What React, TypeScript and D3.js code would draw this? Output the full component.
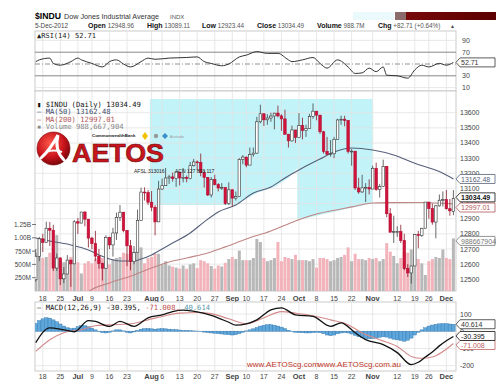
import * as d3 from "d3";

// trading days shown (Jun 14 – Dec 5, 2012)
const dates = [
  "6/14","6/15","6/18","6/19","6/20","6/21","6/22","6/25","6/26","6/27","6/28","6/29",
  "7/2","7/3","7/5","7/6","7/9","7/10","7/11","7/12","7/13","7/16","7/17","7/18","7/19","7/20","7/23","7/24","7/25","7/26","7/27","7/30","7/31",
  "8/1","8/2","8/3","8/6","8/7","8/8","8/9","8/10","8/13","8/14","8/15","8/16","8/17","8/20","8/21","8/22","8/23","8/24","8/27","8/28","8/29","8/30","8/31",
  "9/4","9/5","9/6","9/7","9/10","9/11","9/12","9/13","9/14","9/17","9/18","9/19","9/20","9/21","9/24","9/25","9/26","9/27","9/28",
  "10/1","10/2","10/3","10/4","10/5","10/8","10/9","10/10","10/11","10/12","10/15","10/16","10/17","10/18","10/19","10/22","10/23","10/24","10/25","10/26","10/31",
  "11/1","11/2","11/5","11/6","11/7","11/8","11/9","11/12","11/13","11/14","11/15","11/16","11/19","11/20","11/21","11/23","11/26","11/27","11/28","11/29","11/30",
  "12/3","12/4","12/5",
];

const opens = [
  12497,12652,12767,12742,12837,12824,12574,12641,12503,12535,12627,12602,
  12880,12871,12944,12897,12772,12736,12653,12605,12573,12777,12727,12806,12909,12943,12823,12721,12617,12676,12888,13076,13073,
  13009,12976,12879,13096,13118,13169,13176,13165,13208,13169,13172,13165,13250,13275,13272,13204,13173,13057,13158,13125,13103,13107,13001,
  13091,13036,13047,13292,13307,13254,13323,13333,13540,13593,13553,13565,13578,13597,13579,13559,13458,13414,13486,
  13437,13515,13482,13495,13575,13610,13584,13474,13345,13326,13329,13424,13552,13557,13549,13344,13346,13103,13077,13104,13107,
  13096,13233,13093,13112,13246,12933,12811,12815,12815,12756,12571,12542,12588,12796,12789,12837,13010,12967,12878,12985,13022,
  13026,12966,12948.96,
];
const highs = [
  12700,12780,12800,12880,12878,12860,12670,12645,12580,12660,12628,12890,
  12905,12945,12950,12897,12780,12820,12700,12610,12790,12780,12840,12940,12990,12943,12823,12760,12720,12960,13105,13107,13090,
  13083,12990,13150,13165,13235,13190,13205,13212,13208,13235,13185,13275,13295,13285,13330,13220,13175,13175,13190,13135,13135,13108,13140,
  13095,13080,13300,13320,13310,13370,13370,13573,13653,13593,13590,13600,13600,13647,13590,13620,13460,13515,13486,
  13597,13567,13520,13592,13661,13610,13584,13480,13440,13420,13440,13560,13580,13580,13550,13360,13346,13170,13190,13135,13160,
  13250,13270,13130,13290,13246,12970,12920,12850,12860,12800,12600,12590,12800,12820,12840,13010,13010,13000,12990,13060,13080,
  13090,13030,13089.11,
];
const lows = [
  12485,12620,12680,12741,12720,12555,12555,12462,12475,12534,12450,12602,
  12800,12870,12850,12710,12700,12620,12570,12492,12573,12700,12650,12760,12885,12810,12587,12560,12600,12676,12888,13020,12990,
  12950,12790,12879,13090,13118,13130,13145,13110,13120,13140,13140,13160,13245,13220,13180,13105,13050,13040,13120,13080,13090,12990,12990,
  12980,13020,13047,13260,13240,13254,13310,13330,13530,13512,13520,13540,13490,13570,13480,13455,13370,13410,13400,
  13437,13424,13440,13495,13560,13550,13460,13330,13320,13310,13300,13424,13520,13510,13330,13250,13090,13065,13070,13010,13060,
  13096,13085,13040,13112,12910,12810,12740,12780,12740,12560,12515,12471,12588,12705,12780,12837,12900,12860,12770,12980,12980,
  12960,12920,12923.44,
];
const closes = [
  12652,12767,12742,12837,12824,12574,12641,12503,12535,12627,12602,12880,
  12871,12944,12897,12772,12736,12653,12605,12573,12777,12727,12806,12909,12943,12823,12721,12617,12676,12888,13076,13073,13009,
  12976,12879,13096,13118,13169,13176,13165,13208,13169,13172,13165,13250,13275,13272,13204,13173,13057,13158,13125,13103,13107,13001,13091,
  13036,13047,13292,13307,13254,13323,13333,13540,13593,13553,13565,13578,13597,13579,13559,13458,13414,13486,13437,
  13515,13482,13495,13575,13610,13584,13474,13345,13326,13329,13424,13552,13557,13549,13344,13346,13103,13077,13104,13107,13096,
  13233,13093,13112,13246,12933,12811,12815,12815,12756,12571,12542,12588,12796,12789,12837,13010,12967,12878,12985,13022,13026,
  12966,12952,13034.49,
];
// volume in millions
const volumes = [
  720,980,620,640,720,800,1050,560,540,560,640,900,
  540,330,520,560,520,610,580,620,560,500,600,620,640,720,700,760,740,800,820,520,620,
  640,700,700,500,560,480,460,440,420,480,420,500,520,430,580,560,520,470,420,480,460,530,600,
  640,600,760,580,580,580,620,980,920,620,560,580,620,920,560,640,620,600,680,
  580,580,580,560,600,440,620,620,600,560,580,620,640,680,820,560,700,600,600,580,620,
  600,620,560,600,900,740,660,520,620,740,720,780,620,600,520,300,560,600,640,620,780,
  620,600,988.67,
];

const ma50Dates = ["6/14","6/20","6/28","7/6","7/11","7/16","7/19","7/25","7/27","8/1","8/3","8/8","8/16","8/22","8/28","9/5","9/12","9/19","9/25","10/2","10/9","10/15","10/22","11/1","11/9","11/19","11/29","12/5"];
const ma50Values = [12773,12753,12727,12694,12661,12634,12621,12621,12634,12661,12687,12727,12806,12879,12945,12991,13070,13110,13169,13235,13294,13340,13367,13354,13321,13266,13211,13162.48];

const ma200Dates = ["7/5","7/6","7/16","7/25","8/1","8/7","8/15","8/23","8/30","9/10","9/19","9/28","10/8","10/17","10/22","11/1","11/8","11/21","12/5"];
const ma200Values = [12380,12417,12476,12529,12575,12608,12641,12674,12714,12766,12819,12885,12931,12964,12978,13004,13006,13007,12997.01];

const rsiDates = ["6/14","6/15","6/20","6/21","6/25","6/28","7/2","7/3","7/9","7/12","7/16","7/18","7/20","7/24","7/27","7/31","8/2","8/8","8/15","8/20","8/22","8/24","8/29","8/31","9/6","9/10","9/13","9/18","9/21","9/26","9/27","10/2","10/5","10/9","10/11","10/16","10/19","10/23","10/25","10/31","11/2","11/6","11/7","11/12","11/15","11/19","11/21","11/26","11/29","12/3","12/5"];
const rsiValues = [54,57,60,51,48,54,60,57,51,45,54,57,50,45,54,60,58,60,61,62,54,51,47,50,62,65,71,68,68,57,54,57,61,51,43,57,45,34,35,43,37,45,31,30,26,40,48,45,51,48,52.71];

const macdDates = ["6/14","6/20","6/26","6/29","7/6","7/10","7/16","7/19","7/25","7/31","8/6","8/9","8/14","8/20","8/24","8/31","9/5","9/13","9/19","9/24","9/28","10/5","10/12","10/17","10/23","10/26","11/6","11/12","11/16","11/20","11/23","11/27","11/29","12/3","12/5"];
const macdValues = [-66,20,8,-3,62,57,28,57,28,78,95,114,122,112,92,52,35,66,124,136,95,86,28,49,-9,-49,-78,-124,-194,-180,-150,-120,-85,-55,-30.395];

const signalDates = ["6/14","6/20","6/26","7/3","7/10","7/17","7/24","7/31","8/6","8/13","8/20","8/24","8/31","9/10","9/17","9/24","9/28","10/5","10/12","10/19","10/25","11/5","11/12","11/16","11/21","11/27","11/30","12/5"];
const signalValues = [-117,-49,-9,9,32,38,43,66,86,105,109,102,72,43,78,114,105,90,66,38,-10,-49,-88,-146,-157,-150,-118,-71.008];

// MACD histogram, one value per trading day
const histValues = [
  45,62,72,78,76,66,55,42,30,20,15,18,26,32,32,26,18,8,-3,-8,-10,-6,2,8,8,2,-6,-10,-4,5,12,15,16,
  14,12,14,15,14,12,10,9,7,5,5,3,2,1,-2,-5,-8,-10,-12,-14,-16,-18,-20,
  -22,-20,-14,-6,2,8,14,22,30,35,38,38,35,30,24,15,6,-2,-6,
  -8,-9,-10,-10,-8,-6,-8,-14,-22,-26,-22,-15,-10,-8,-10,-16,-24,-32,-38,-42,-44,
  -42,-40,-36,-32,-34,-40,-46,-50,-54,-58,-52,-40,-22,-6,8,20,30,36,40,43,44,
  44,42,40.614,
];

// date axis labels
const tickDates = ["6/18","6/25","7/2","7/9","7/16","7/23","8/1","8/6","8/13","8/20","8/27","9/4","9/10","9/17","9/24","10/1","10/8","10/15","10/22","11/1","11/12","11/19","11/26","12/3"];
const tickLabels = ["18","25","Jul","9","16","23","Aug","6","13","20","27","Sep","10","17","24","Oct","8","15","22","Nov","12","19","26","Dec"];

const priceTicks = [12500,12600,12700,12800,12900,13000,13100,13200,13300,13400,13500,13600];
const volTicks = [250, 500, 750, 1000, 1250];
const volTickLabels = ["250M","500M","750M","1.00B","1.25B"];
const rsiTicks = [10, 30, 50, 70, 90];
const macdTicks = [-200, -100, 0, 100];

// highlighted zone: [date, day offset, price]
const zone: [string, number, number][] = [
  ["8/1",-0.5,13690],["11/1",0,13690],["11/1",0,13004],["10/1",-0.5,12890],["10/1",-0.5,13235],
  ["9/26",0,13169],["9/20",0,13110],["9/13",0,13070],["9/5",0,12991],["8/1",-0.5,12990],
];

// quote line in the header
const quoteLabels = ["Open","High","Low","Close","Volume","Chg"];
const quoteValues = ["12948.96","13089.11","12923.44","13034.49","988.7M","+82.71 (+0.64%)"];
const quoteX = [88, 147, 202, 257, 317, 378];

const SANS = "'Liberation Sans', Arial, sans-serif";
const MONO = "'DejaVu Sans Mono', monospace";
const L = 35, R = 456;

function Tag({ y, text, color, bold }: { y: number; text: string; color: string; bold?: boolean }) {
  const w = 39, h = 9;
  return (
    <g>
      <path d={`M${R},${y} L${R + 4},${y - h / 2} L${R + w},${y - h / 2} L${R + w},${y + h / 2} L${R + 4},${y + h / 2} Z`}
        fill="#fff" stroke={color} strokeWidth={0.8} />
      <text x={R + 5} y={y + 2.6} fontSize={7} fill={color} fontFamily={SANS} fontWeight={bold ? "bold" : "normal"}>{text}</text>
    </g>
  );
}

export default function App() {
  const idx = new Map(dates.map((d, i) => [d, i]));
  const x = d3.scaleLinear().domain([0, dates.length - 1]).range([35.75, 453.4]);
  const xd = (d: string, off = 0) => x((idx.get(d) ?? 0) + off);

  const yP = d3.scaleLinear().domain([12500, 13600]).range([279.3, 112.7]);
  const yV = d3.scaleLinear().domain([0, 1250]).range([291, 224.5]);
  const yR = d3.scaleLinear().domain([10, 90]).range([87.6, 40.4]);
  const yM = d3.scaleLinear().domain([-200, 100]).range([365.7, 314]);

  const mkLine = (ds: string[], vs: number[], y: d3.ScaleLinear<number, number>) =>
    d3.line<number>().x((_, i) => xd(ds[i])).y((v) => y(v)).curve(d3.curveMonotoneX)(vs) ?? "";

  const zonePath = (d3.line<[string, number, number]>().x((p) => xd(p[0], p[1])).y((p) => yP(p[2]))(zone) ?? "") + "Z";

  const grid = "#e2e2e2";
  const border = "#bdbdbd";
  const isMonth = (s: string) => /[A-Z]/.test(s);

  return (
    <svg width={500} height={386} style={{ position: "absolute", left: 0, top: 0, background: "#fff" }} fontFamily={SANS}>
      <defs>
        <clipPath id="pclip"><rect x={L} y={91} width={R - L} height={200} /></clipPath>
        <clipPath id="mclip"><rect x={L} y={302} width={R - L} height={69} /></clipPath>
        <radialGradient id="ball" cx="0.4" cy="0.35" r="0.7">
          <stop offset="0" stopColor="#ff5a4a" />
          <stop offset="0.6" stopColor="#c8141c" />
          <stop offset="1" stopColor="#6e0508" />
        </radialGradient>
        <linearGradient id="redbar" x1="0" x2="1">
          <stop offset="0" stopColor="#7a0a0a" />
          <stop offset="1" stopColor="#5c0000" />
        </linearGradient>
      </defs>

      {/* header */}
      <text x={35} y={19} fontSize={9.5} fontWeight="bold" textLength={26} lengthAdjust="spacingAndGlyphs">$INDU</text>
      <text x={64} y={19} fontSize={7.2} fill="#333">Dow Jones Industrial Average</text>
      <text x={170} y={19} fontSize={6} fill="#555">INDX</text>
      <rect x={353} y={12} width={41} height={8} fill="#eafafc" />
      <rect x={395} y={12} width={101} height={8} fill="url(#redbar)" />
      <rect x={395} y={12} width={11} height={8} fill="#8a6a6a" />
      <text x={35} y={28} fontSize={6.3} fill="#444">5-Dec-2012</text>
      {quoteLabels.map((q, i) => (
        <text key={q} x={quoteX[i]} y={28}>
          <tspan fontSize={7} fontWeight="bold" fill="#111">{q}</tspan>
          <tspan fontSize={6.3} fill="#555">{" " + quoteValues[i]}</tspan>
        </text>
      ))}
      <text x={450} y={28} fontSize={5} fill="#444">▲</text>

      {/* RSI panel */}
      <rect x={L} y={31} width={R - L} height={60} fill="#fff" stroke={border} strokeWidth={0.8} />
      {tickDates.map((d) => <line key={"rg" + d} x1={xd(d)} x2={xd(d)} y1={31} y2={91} stroke={grid} strokeWidth={0.8} />)}
      {rsiTicks.map((t) => (
        <line key={"rh" + t} x1={L} x2={R} y1={yR(t)} y2={yR(t)}
          stroke={t === 30 || t === 70 ? "#888" : t === 50 ? "#777" : grid}
          strokeWidth={t === 30 || t === 70 ? 1 : 0.8}
          strokeDasharray={t === 50 ? "5,2,1,2" : undefined} />
      ))}
      <path d={mkLine(rsiDates, rsiValues, yR)} fill="none" stroke="#333" strokeWidth={1} />
      <text x={37} y={37.5} fontSize={7} fontFamily={MONO} fill="#222">▲RSI(14) 52.71</text>
      {rsiTicks.filter((t) => t !== 50).map((t) => (
        <text key={"rt" + t} x={462} y={yR(t) + 2.5} fontSize={7} fill="#444">{t}</text>
      ))}
      <Tag y={yR(52.71)} text="52.71" color="#333" />

      {/* price panel */}
      <rect x={L} y={91} width={R - L} height={200} fill="#fff" stroke={border} strokeWidth={0.8} />
      <g clipPath="url(#pclip)">
        <path d={zonePath} fill="#c2f3f8" />
        {tickDates.map((d) => <line key={"pg" + d} x1={xd(d)} x2={xd(d)} y1={91} y2={291} stroke={grid} strokeWidth={0.8} />)}
        {priceTicks.map((t) => <line key={"ph" + t} x1={L} x2={R} y1={yP(t)} y2={yP(t)} stroke={grid} strokeWidth={0.8} />)}
        {volumes.map((v, i) => {
          const up = i === 0 ? closes[i] >= opens[i] : closes[i] >= closes[i - 1];
          return <rect key={"v" + i} x={x(i) - 1.5} width={3} y={yV(v)} height={yV(0) - yV(v)}
            fill={up ? "#b8b8b8" : "#f2b3bb"} />;
        })}
        <path d={mkLine(ma200Dates, ma200Values, yP)} fill="none" stroke="#c08585" strokeWidth={1.1} />
        <path d={mkLine(ma50Dates, ma50Values, yP)} fill="none" stroke="#56607a" strokeWidth={1.1} />
        {dates.map((d, i) => {
          const o = opens[i], c = closes[i];
          const up = c >= o;
          const top = yP(Math.max(o, c)), bot = yP(Math.min(o, c));
          return (
            <g key={"c" + d}>
              <line x1={x(i)} x2={x(i)} y1={yP(highs[i])} y2={yP(lows[i])} stroke={up ? "#444" : "#8a1a2a"} strokeWidth={0.8} />
              <rect x={x(i) - 1.25} width={2.5} y={top} height={Math.max(bot - top, 0.8)}
                fill={up ? "#fff" : "#d3123c"} stroke={up ? "#333" : "#b10d30"} strokeWidth={0.6} />
            </g>
          );
        })}
      </g>

      {/* legend */}
      <g fontFamily={MONO} fontSize={7.2}>
        <text x={37} y={106.5} fill="#111">▮ $INDU (Daily) 13034.49</text>
        <text x={37} y={114} fill="#3e4a6a">— MA(50) 13162.48</text>
        <text x={37} y={121.5} fill="#b0585c">— MA(200) 12997.01</text>
        <text x={37} y={129} fill="#888">▪ Volume 988,667,904</text>
      </g>

      {/* AETOS logo */}
      <g>
        <circle cx={53.5} cy={148.5} r={16.5} fill="url(#ball)" stroke="#7a0a0a" strokeWidth={0.6} />
        <path d="M41,158 Q50,150 58,135 Q54,150 64,160" fill="none" stroke="#fff" strokeWidth={3} strokeLinecap="round" />
        <path d="M46,152 Q54,149 62,152" fill="none" stroke="#fff" strokeWidth={2} />
        <text x={72} y={162} fontSize={26} fontWeight="bold" fill="#c8161d" stroke="#6a0a0a" strokeWidth={0.6}
          textLength={92} lengthAdjust="spacingAndGlyphs">AETOS</text>
        <text x={92} y={137} fontSize={4.4} fontWeight="bold" fill="#222">CommonwealthBank</text>
        <path d="M145,132 l3,4 l-3,4 l-3,-4 Z" fill="#f2c200" />
        <circle cx={156} cy={136} r={2.2} fill="#999" />
        <path d="M165,133 l3,3 l-3,3 l-3,-3 Z" fill="#3a8fc8" />
        <text x={170} y={137.5} fontSize={3.5} fill="#999">Austrade</text>
        <text x={134} y={172.5} fontSize={5} fill="#222">AFSL:313016</text>
        <text x={175} y={172.5} fontSize={5} fill="#222">ACN 127 893 117</text>
      </g>

      {/* price axis */}
      {priceTicks.map((t) => (
        <text key={"pt" + t} x={460} y={yP(t) + 2.5} fontSize={7} fill="#444">{t}</text>
      ))}
      {volTicks.map((t, i) => (
        <g key={"vt" + t}>
          <text x={31} y={yV(t) + 2.5} fontSize={6.5} fill="#444" textAnchor="end">{volTickLabels[i]}</text>
          <line x1={32} x2={36} y1={yV(t)} y2={yV(t)} stroke="#555" strokeWidth={0.8} />
        </g>
      ))}
      <Tag y={yV(988.67) + 2.5} text="988667904" color="#777" />
      <Tag y={yP(13162.48)} text="13162.48" color="#56607a" />
      <Tag y={yP(12997.01) + 3.5} text="12997.01" color="#b0585c" />
      <Tag y={yP(13034.49) - 1} text="13034.49" color="#111" bold />

      {/* date labels under price panel */}
      {tickDates.map((d, i) => (
        <text key={"dt" + d} x={xd(d)} y={300.5} fontSize={isMonth(tickLabels[i]) ? 7.5 : 7}
          fontWeight={isMonth(tickLabels[i]) ? "bold" : "normal"} textAnchor="middle" fill="#444">{tickLabels[i]}</text>
      ))}

      {/* MACD panel */}
      <rect x={L} y={302} width={R - L} height={69} fill="#fff" stroke={border} strokeWidth={0.8} />
      {tickDates.map((d) => <line key={"mg" + d} x1={xd(d)} x2={xd(d)} y1={302} y2={371} stroke={grid} strokeWidth={0.8} />)}
      {macdTicks.map((t) => <line key={"mh" + t} x1={L} x2={R} y1={yM(t)} y2={yM(t)} stroke={grid} strokeWidth={0.8} />)}
      <g clipPath="url(#mclip)">
        {histValues.map((v, i) => (
          <rect key={"h" + i} x={x(i) - 1.75} width={3.5} y={Math.min(yM(v), yM(0))} height={Math.abs(yM(v) - yM(0))}
            fill="#5ea7dc" stroke="#2f72aa" strokeWidth={0.4} />
        ))}
        <path d={mkLine(signalDates, signalValues, yM)} fill="none" stroke="#d48a8a" strokeWidth={1.1} />
        <path d={mkLine(macdDates, macdValues, yM)} fill="none" stroke="#111" strokeWidth={1.3} />
      </g>
      <text x={37} y={309.5} fontSize={7.2} fontFamily={MONO}>
        <tspan fill="#111">— MACD(12,26,9) -30.395, </tspan>
        <tspan fill="#c05050">-71.008, </tspan>
        <tspan fill="#5a9aa8">40.614</tspan>
      </text>
      <text x={247} y={367} fontSize={8} fill="#c0392b">www.AETOScg.com</text>
      <text x={318} y={367} fontSize={8} fill="#c0392b">www.AETOScg.com.au</text>
      {macdTicks.map((t) => (
        <text key={"mt" + t} x={460} y={yM(t) + 2.5} fontSize={7} fill="#444">{t}</text>
      ))}
      <Tag y={yM(-71.008) + 1.5} text="-71.008" color="#c06060" />
      <Tag y={yM(-30.395) - 0.5} text="-30.395" color="#111" />
      <Tag y={yM(40.614)} text="40.614" color="#333" />

      {tickDates.map((d, i) => (
        <text key={"bt" + d} x={xd(d)} y={379} fontSize={isMonth(tickLabels[i]) ? 7.5 : 7}
          fontWeight={isMonth(tickLabels[i]) ? "bold" : "normal"} textAnchor="middle" fill="#444">{tickLabels[i]}</text>
      ))}
    </svg>
  );
}
